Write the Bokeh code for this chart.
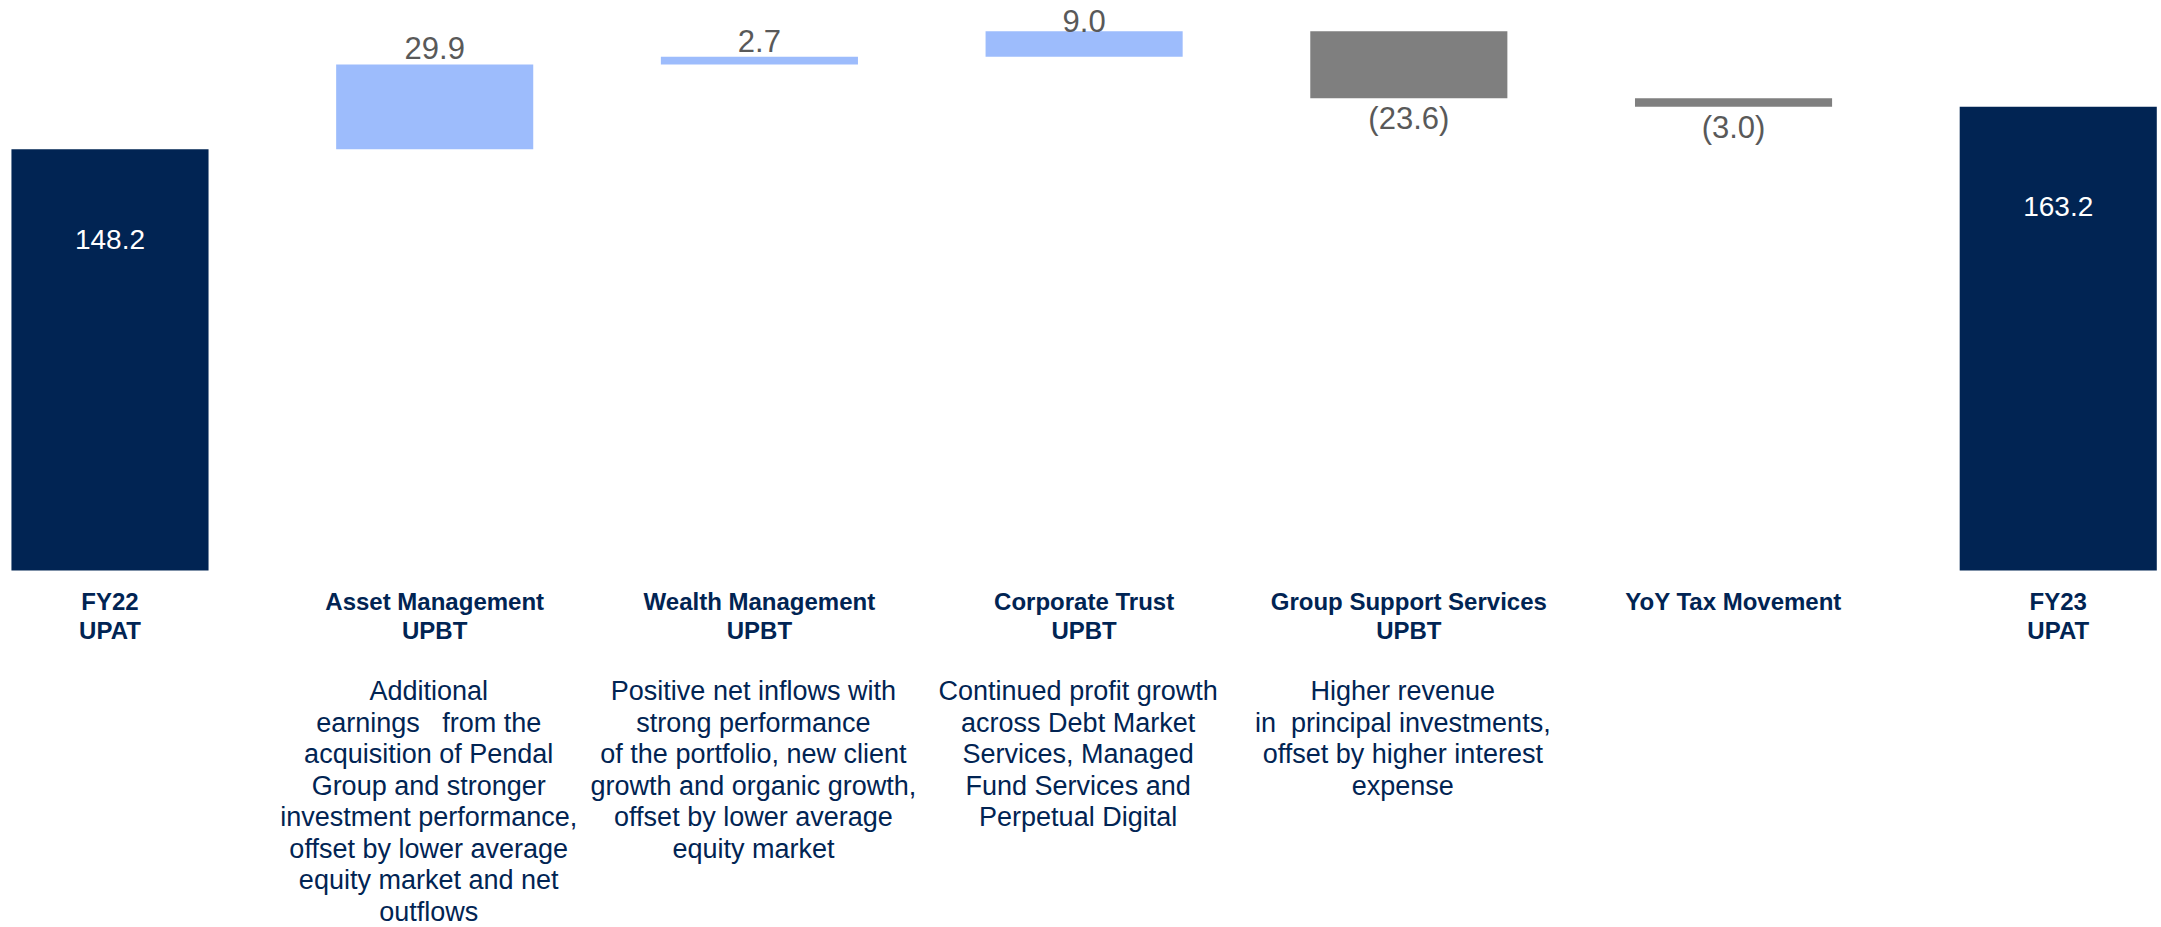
import re
from bokeh.plotting import figure
from bokeh.models import Range1d, ColumnDataSource
from bokeh.core.properties import value
from bokeh.embed import file_html
from bokeh.resources import INLINE

# ---- data ----
categories = ["FY22\nUPAT", "Asset Management\nUPBT", "Wealth Management\nUPBT",
              "Corporate Trust\nUPBT", "Group Support Services\nUPBT",
              "YoY Tax Movement", "FY23\nUPAT"]
values = [148.2, 29.9, 2.7, 9.0, -23.6, -3.0, 163.2]
is_total = [True, False, False, False, False, False, True]
descriptions = [
    [],
    ["Additional", "earnings   from the", "acquisition of Pendal", "Group and stronger",
     "investment performance,", "offset by lower average", "equity market and net", "outflows"],
    ["Positive net inflows with", "strong performance", "of the portfolio, new client",
     "growth and organic growth,", "offset by lower average", "equity market"],
    ["Continued profit growth", "across Debt Market", "Services, Managed",
     "Fund Services and", "Perpetual Digital"],
    ["Higher revenue", "in  principal investments,", "offset by higher interest", "expense"],
    [],
    [],
]

NAVY = "#012453"
LIGHT = "#9DBCFC"
GREY = "#7F7F7F"
LABEL_GREY = "#595959"

# ---- waterfall geometry from data ----
xs = list(range(len(values)))
bottoms, tops, colors = [], [], []
running = 0.0
for v, tot in zip(values, is_total):
    if tot:
        bottoms.append(0.0); tops.append(v); colors.append(NAVY)
        running = v
    else:
        start = running
        running = running + v
        bottoms.append(min(start, running)); tops.append(max(start, running))
        colors.append(LIGHT if v > 0 else GREY)

W, H = 2161, 927
Y_END = 200.6
p = figure(width=W, height=H, output_backend="svg", toolbar_location=None,
           x_range=Range1d(-0.3372, 6.318), y_range=Range1d(-125.7, Y_END),
           min_border=0, outline_line_color=None,
           x_axis_location=None, y_axis_location=None)
p.xgrid.visible = False
p.ygrid.visible = False
p.background_fill_color = "white"
p.border_fill_color = "white"

src = ColumnDataSource(dict(x=xs, bottom=bottoms, top=tops, color=colors))
p.vbar(x="x", bottom="bottom", top="top", width=0.607, fill_color="color",
       line_color=None, source=src)

FONT = value("Liberation Sans")

pos_x, pos_y, pos_t, pos_o = [], [], [], []
neg_x, neg_y, neg_t = [], [], []
tot_x, tot_y, tot_t = [], [], []
for x, v, tot, b, t in zip(xs, values, is_total, bottoms, tops):
    if tot:
        tot_x.append(x); tot_y.append(v * 0.785); tot_t.append(f"{v:.1f}")
    elif v > 0:
        pos_x.append(x); pos_y.append(t); pos_t.append(f"{v:.1f}")
        # keep the label inside the frame when the bar reaches the top
        pos_o.append(-5 if t < Y_END - 15 else 1)
    else:
        neg_x.append(x); neg_y.append(b); neg_t.append(f"({abs(v):.1f})")

p.text(x=pos_x, y=pos_y, text=pos_t, y_offset=pos_o, text_font=FONT,
       text_font_size="31px", text_color=LABEL_GREY, text_align="center",
       text_baseline="bottom")
p.text(x=neg_x, y=neg_y, text=neg_t, text_font=FONT, text_font_size="31px",
       text_color=LABEL_GREY, text_align="center", text_baseline="top", y_offset=3)
p.text(x=tot_x, y=tot_y, text=tot_t, text_font=FONT, text_font_size="28px",
       text_color="white", text_align="center", text_baseline="middle")

cx, cy, ct, co = [], [], [], []
for x, c in zip(xs, categories):
    for i, line in enumerate(c.split("\n")):
        cx.append(x); cy.append(0); ct.append(line); co.append(31 + 29 * i)
p.text(x=cx, y=cy, text=ct, y_offset=co, text_font=FONT, text_font_size="24px",
       text_font_style="bold", text_color=NAVY, text_align="center",
       text_baseline="middle")

def keep_spaces(s):
    # SVG collapses runs of spaces; keep the original spacing visible
    return re.sub(r" {2,}", lambda m: " " + "\u00a0" * (len(m.group(0)) - 1), s)

dx, dy, dt, do = [], [], [], []
for x, lines in zip(xs, descriptions):
    for i, line in enumerate(lines):
        dx.append(x); dy.append(0); dt.append(keep_spaces(line)); do.append(121 + 31.5 * i)
p.text(x=dx, y=dy, text=dt, y_offset=do, x_offset=-6, text_font=FONT,
       text_font_size="27px", text_color=NAVY, text_align="center",
       text_baseline="middle")

open("out.html", "w").write(file_html(p, INLINE))
